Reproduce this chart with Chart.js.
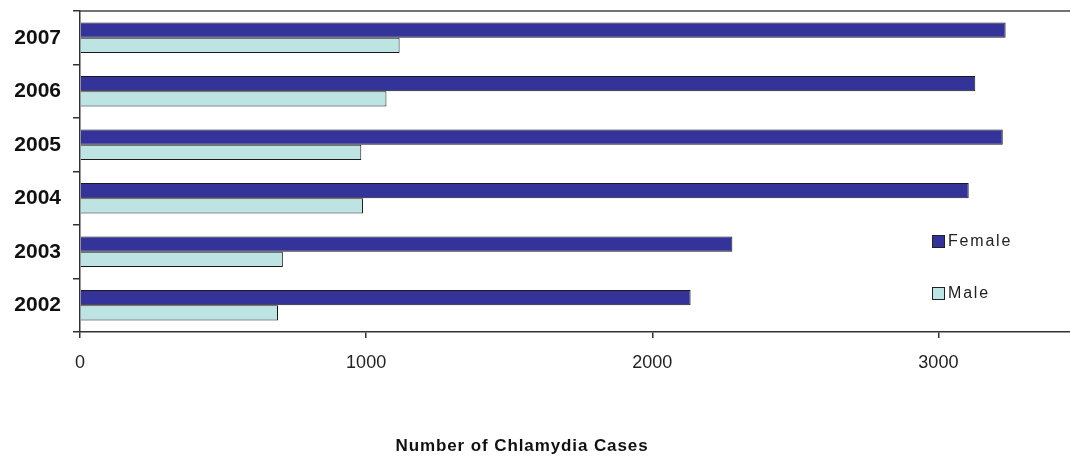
<!DOCTYPE html>
<html>
<head>
<meta charset="utf-8">
<script src="https://cdn.jsdelivr.net/npm/chart.js@4/dist/chart.umd.min.js"></script>
<style>
  html, body { margin: 0; padding: 0; background: #fff; }
  #wrap { position: relative; width: 1070px; height: 457px; }
  #legend { position: absolute; left: 932px; top: 232px; font-family: "Liberation Sans", Arial, sans-serif; font-size: 16px; letter-spacing: 1.8px; color: #222; }
  #legend div { height: 52px; display: flex; align-items: flex-start; }
  #legend span.box { display: inline-block; width: 11px; height: 11px; border: 1px solid #222; margin-right: 3px; margin-top: 3px; }
</style>
</head>
<body>
<div id="wrap">
  <canvas id="barChart" width="1070" height="457"></canvas>
  <div id="legend"></div>
</div>
<script>
var years = ["2007", "2006", "2005", "2004", "2003", "2002"];
var female = [3235, 3129, 3225, 3106, 2280, 2134];
var male = [1117, 1071, 983, 989, 709, 692];
var xTicks = [0, 1000, 2000, 3000];
var seriesNames = ["Female", "Male"];
var seriesColors = ["#333399", "#BEE3E3"];

// top border of the plot area + axis title
var extras = {
  id: 'extras',
  afterDraw: function (chart) {
    var ctx = chart.ctx, a = chart.chartArea;
    ctx.save();
    ctx.strokeStyle = '#444';
    ctx.lineWidth = 1.5;
    ctx.beginPath();
    ctx.moveTo(a.left, a.top);
    ctx.lineTo(a.right, a.top);
    ctx.stroke();
    ctx.fillStyle = '#111';
    ctx.font = 'bold 17px "Liberation Sans", Arial, sans-serif';
    ctx.letterSpacing = '0.9px';
    ctx.textAlign = 'center';
    ctx.textBaseline = 'middle';
    ctx.fillText('Number of Chlamydia Cases', 522, 446);
    ctx.restore();
  }
};

var ctxB = document.getElementById("barChart").getContext('2d');
var myBarChart = new Chart(ctxB, {
  type: 'bar',
  data: {
    labels: years,
    datasets: [{
        label: seriesNames[0],
        data: female,
        backgroundColor: seriesColors[0],
        borderColor: '#1a1a1a',
        borderWidth: 1,
        categoryPercentage: 0.57,
        barPercentage: 1.0
      },
      {
        label: seriesNames[1],
        data: male,
        backgroundColor: seriesColors[1],
        borderColor: '#1a1a1a',
        borderWidth: 1,
        categoryPercentage: 0.57,
        barPercentage: 1.0
      }
    ]
  },
  options: {
    indexAxis: 'y',
    responsive: false,
    animation: false,
    layout: { padding: { top: 11, right: 0, left: 0, bottom: 0 } },
    plugins: {
      legend: { display: false },
      tooltip: { enabled: false }
    },
    scales: {
      x: {
        min: 0,
        max: 3460,
        afterBuildTicks: function (axis) {
          axis.ticks = xTicks.map(function (v) { return { value: v }; });
        },
        afterFit: function (axis) { axis.height = 125; axis.paddingLeft = 0; axis.paddingRight = 0; },
        grid: { drawOnChartArea: false, drawTicks: true, tickLength: 6, color: '#333', lineWidth: 1.5 },
        border: { display: true, color: '#333', width: 1.5 },
        ticks: {
          padding: 14,
          color: '#222',
          font: { family: '"Liberation Sans", Arial, sans-serif', size: 18 },
          callback: function (v) { return String(v); }
        }
      },
      y: {
        afterFit: function (axis) { axis.width = 80; axis.paddingTop = 0; axis.paddingBottom = 0; },
        grid: { drawOnChartArea: false, drawTicks: true, tickLength: 7, offset: true, color: '#333', lineWidth: 1.5 },
        border: { display: true, color: '#333', width: 1.5 },
        ticks: {
          padding: 12,
          color: '#111',
          font: { family: '"Liberation Sans", Arial, sans-serif', size: 21, weight: 'bold' }
        }
      }
    }
  },
  plugins: [extras]
});

// legend from the same series arrays
var legendEl = document.getElementById('legend');
seriesNames.forEach(function (name, i) {
  var row = document.createElement('div');
  row.innerHTML = '<span class="box" style="background:' + seriesColors[i] + '"></span>' + name;
  legendEl.appendChild(row);
});
</script>
</body>
</html>
